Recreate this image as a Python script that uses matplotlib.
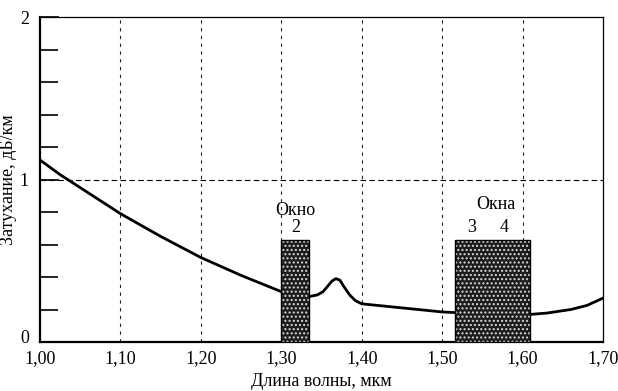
import matplotlib
matplotlib.use("Agg")
import matplotlib.pyplot as plt
import matplotlib.transforms as mtransforms
from matplotlib.patches import Rectangle

# wavelength (um) and attenuation (dB/km)
wavelength = [1.00, 1.025, 1.05, 1.075, 1.10, 1.125, 1.15, 1.175, 1.20, 1.225,
              1.25, 1.275, 1.30, 1.32, 1.335, 1.345, 1.352, 1.358, 1.363, 1.368,
              1.373, 1.378, 1.385, 1.392, 1.40, 1.45, 1.50, 1.52, 1.56, 1.61,
              1.63, 1.66, 1.68, 1.70]
attenuation = [1.12, 1.03, 0.95, 0.87, 0.79, 0.72, 0.65, 0.585, 0.52, 0.465,
               0.41, 0.36, 0.31, 0.285, 0.28, 0.29, 0.31, 0.345, 0.375, 0.39,
               0.38, 0.34, 0.29, 0.255, 0.235, 0.21, 0.185, 0.18, 0.17, 0.17,
               0.178, 0.2, 0.225, 0.27]

# transparency windows: (start, end, height)
windows = [(1.30, 1.335, 0.63), (1.516, 1.609, 0.63)]
window_labels = ["Окно\n2", "Окна"]
window_numbers = [("3", 1.537), ("4", 1.577)]

x_ticks = [1.00, 1.10, 1.20, 1.30, 1.40, 1.50, 1.60, 1.70]
x_ticklabels = ["1,00", "1,10", "1,20", "1,30", "1,40", "1,50", "1,60", "1,70"]
y_ticks = [0, 1, 2]
y_minor = [0.2, 0.4, 0.6, 0.8, 1.2, 1.4, 1.6, 1.8]

plt.rcParams['font.family'] = ['Liberation Serif', 'DejaVu Serif']

fig = plt.figure(figsize=(6.18, 3.91), dpi=100)
ax = fig.add_axes([0.0647, 0.1253, 0.911, 0.8312])

ax.set_xlim(1.0, 1.7)
ax.set_ylim(0, 2)

# grid
for xv in x_ticks[1:-1]:
    ax.axvline(xv, color="#222222", lw=0.8, ls=(0, (3, 4)), zorder=1)
ax.axhline(1, color="black", lw=0.8, ls=(0, (5, 3)), zorder=1)

ax.plot(wavelength, attenuation, color="black", lw=2, zorder=2)

for (x0, x1, h) in windows:
    ax.add_patch(Rectangle((x0, 0), x1 - x0, h, facecolor="#1c1c1c",
                           edgecolor="#d8d8d8", hatch="....", lw=0, zorder=3))
    ax.add_patch(Rectangle((x0, 0), x1 - x0, h, facecolor="none",
                           edgecolor="black", lw=1, zorder=4))

ax.text((windows[0][0] + windows[0][1]) / 2, 0.65, window_labels[0],
        ha="center", va="bottom", fontsize=13, linespacing=1.0)
ax.text((windows[1][0] + windows[1][1]) / 2 + 0.004, 0.795, window_labels[1],
        ha="center", va="bottom", fontsize=13)
for lab, xv in window_numbers:
    ax.text(xv, 0.65, lab, ha="center", va="bottom", fontsize=13)

ax.set_xticks(x_ticks)
ax.set_xticklabels(x_ticklabels, fontsize=13)
ax.set_yticks(y_ticks)
ax.set_yticklabels(["0", "1", "2"], fontsize=13)
ax.set_yticks(y_minor, minor=True)
ax.tick_params(axis="y", which="major", direction="in", length=14, width=1.2, pad=8)
ax.tick_params(axis="y", which="minor", direction="in", length=13, width=1.2)
ax.tick_params(axis="x", which="major", length=0, pad=6)

# lift the "0" label a little, as in the reference
zero_lab = ax.get_yticklabels()[0]
zero_lab.set_transform(zero_lab.get_transform() +
                       mtransforms.ScaledTranslation(0, 4 / 72, fig.dpi_scale_trans))

for side in ["left", "bottom"]:
    ax.spines[side].set_linewidth(1.6)
for side in ["top", "right"]:
    ax.spines[side].set_linewidth(0.9)

ax.set_xlabel("Длина волны, мкм", fontsize=13, labelpad=4)
ax.set_ylabel("Затухание, дБ/км", fontsize=13, labelpad=2)

fig.savefig("out.png", dpi=100)
